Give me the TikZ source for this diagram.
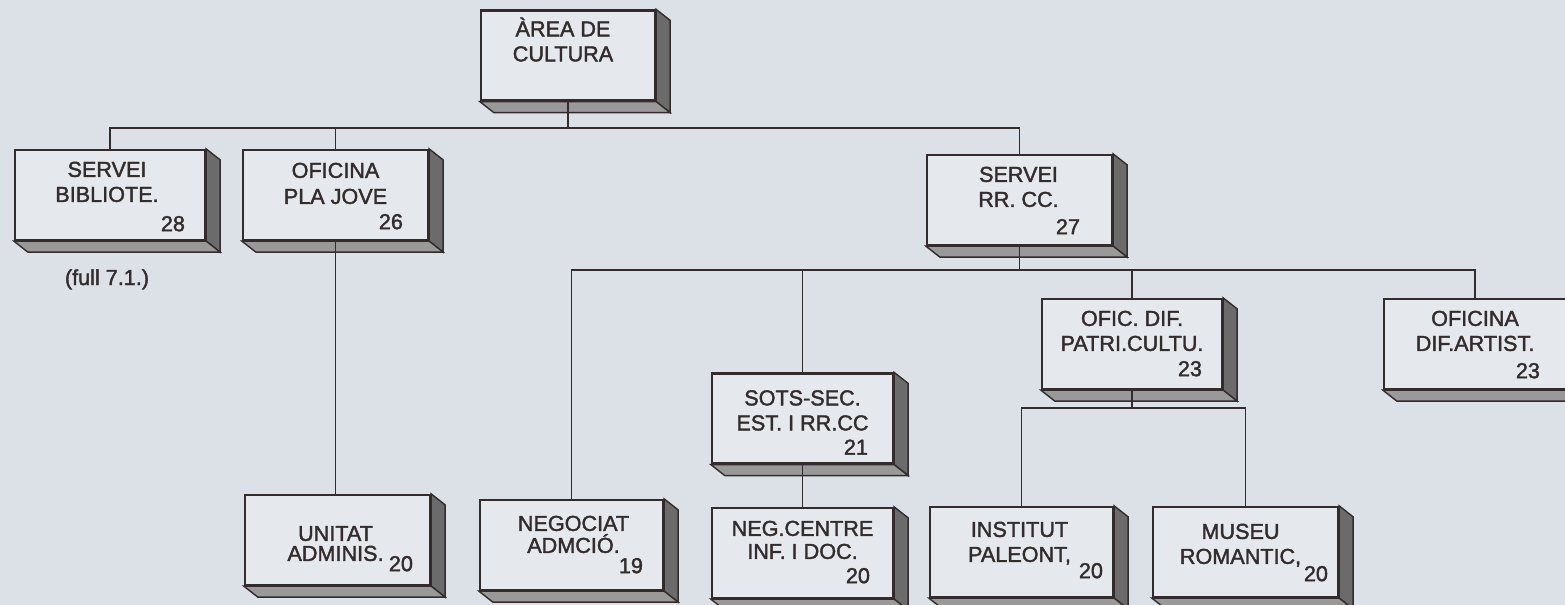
\documentclass[tikz,border=0pt]{standalone}
\usepackage{fontspec}
\setmainfont{Liberation Sans}[BoldFont={Liberation Sans}, BoldFeatures={FakeBold=1.8}]
\usepackage{tikz}
\definecolor{paper}{RGB}{219,225,231}
\definecolor{face}{RGB}{229,233,237}
\definecolor{ink}{RGB}{52,44,44}

\begin{document}
\begin{tikzpicture}[x=0.02cm, y=-0.02cm, every node/.style={font=\fontsize{12.3}{13}\selectfont\bfseries, text=ink},
	unit/.style={draw=ink, line width=1.3pt, fill=face, inner sep=0pt, minimum height=1.8cm},
	wire/.style={draw=ink, line width=1.1pt}]
	\useasboundingbox (0,0) rectangle (1565,605);
	\fill[paper] (0,0) rectangle (1565,605);
	\clip (0,0) rectangle (1565,605);
	% boxes: name/x/y/width/line1/line2/base1/base2/text shift/number/from right/from bottom
	\foreach \n/\x/\y/\w/\a/\b/\ta/\tb/\tx/\num/\nr/\nb in {
		area/568/55.5/174/{ÀREA DE}/CULTURA/27/52/-5/{}/0/0,
		bib/110/195/190/SERVEI/BIBLIOTE./28/53/-3/28/15/10,
		jove/335.5/195/185/OFICINA/{PLA JOVE}/29/55/0/26/20/12,
		rrcc/1019.5/200/185/SERVEI/{RR. CC.}/28/53/-1/27/27/12,
		ofdif/1132/344/180/{OFIC. DIF.}/PATRI.CULTU./28/53/0/23/15/14,
		ofart/1475/344/182/OFICINA/DIF.ARTIST./28/53/0/23/21/12,
		sots/802.5/418.5/181/SOTS-SEC./{EST. I RR.CC}/33/58/0/21/20/10,
		unitat/337.5/540/185/UNITAT/ADMINIS./47/67/-2/20/12/15,
		negadm/571.5/545/183/NEGOCIAT/ADMCIÓ./32/54/2/19/15/18,
		negcentre/802.5/553/181/NEG.CENTRE/{INF. I DOC.}/29/52/0/20/18/16,
		institut/1021.5/552/183/INSTITUT/{PALEONT,}/31/56/-2/20/5/20,
		museu/1245.5/552/185/MUSEU/{ROMANTIC,}/33/58/-5/20/5/17}{
		\node[unit, minimum width=\w*0.02cm] (\n) at (\x,\y) {};
		\filldraw[fill=black!58, draw=ink, line width=0.8pt] (\n.north east) -- ++(14,11) -- ([shift={(14,11)}]\n.south east) -- (\n.south east) -- cycle;
		\filldraw[fill=black!40, draw=ink, line width=0.8pt] (\n.south west) -- ++(14,11) -- ([shift={(14,11)}]\n.south east) -- (\n.south east) -- cycle;
		\node[anchor=base] (\n-a) at ([shift={(\tx,\ta)}]\n.north) {\a};
		\node[anchor=base] (\n-b) at ([shift={(\tx,\tb)}]\n.north) {\b};
		\node[anchor=base east] (\n-n) at ([shift={(-\nr,-\nb)}]\n.south east) {\num};
	}
	\node[anchor=base] (note) at (107,285) {(full 7.1.)};
	% the three buses
	\coordinate (busA) at (0,128); \coordinate (busB) at (0,270); \coordinate (busC) at (0,408);
	\draw[wire] (bib.north) |- (rrcc.north |- busA) -- (rrcc.north);
	\draw[wire] (area.south) -- (area.south |- busA);
	\draw[wire] (jove.north) -- (jove.north |- busA);
	\draw[wire] (jove.south) -- (jove.south |- unitat.north);
	\draw[wire] (negadm.north) |- (ofart.north |- busB) -- (ofart.north);
	\draw[wire] (rrcc.south) -- (rrcc.south |- busB);
	\foreach \n in {sots, ofdif} {\draw[wire] (\n.north) -- (\n.north |- busB);}
	\draw[wire] (sots.south) -- (negcentre.north);
	\draw[wire] (institut.north) |- (museu.north |- busC) -- (museu.north);
	\draw[wire] (ofdif.south) -- (ofdif.south |- busC);
\end{tikzpicture}
\end{document}
